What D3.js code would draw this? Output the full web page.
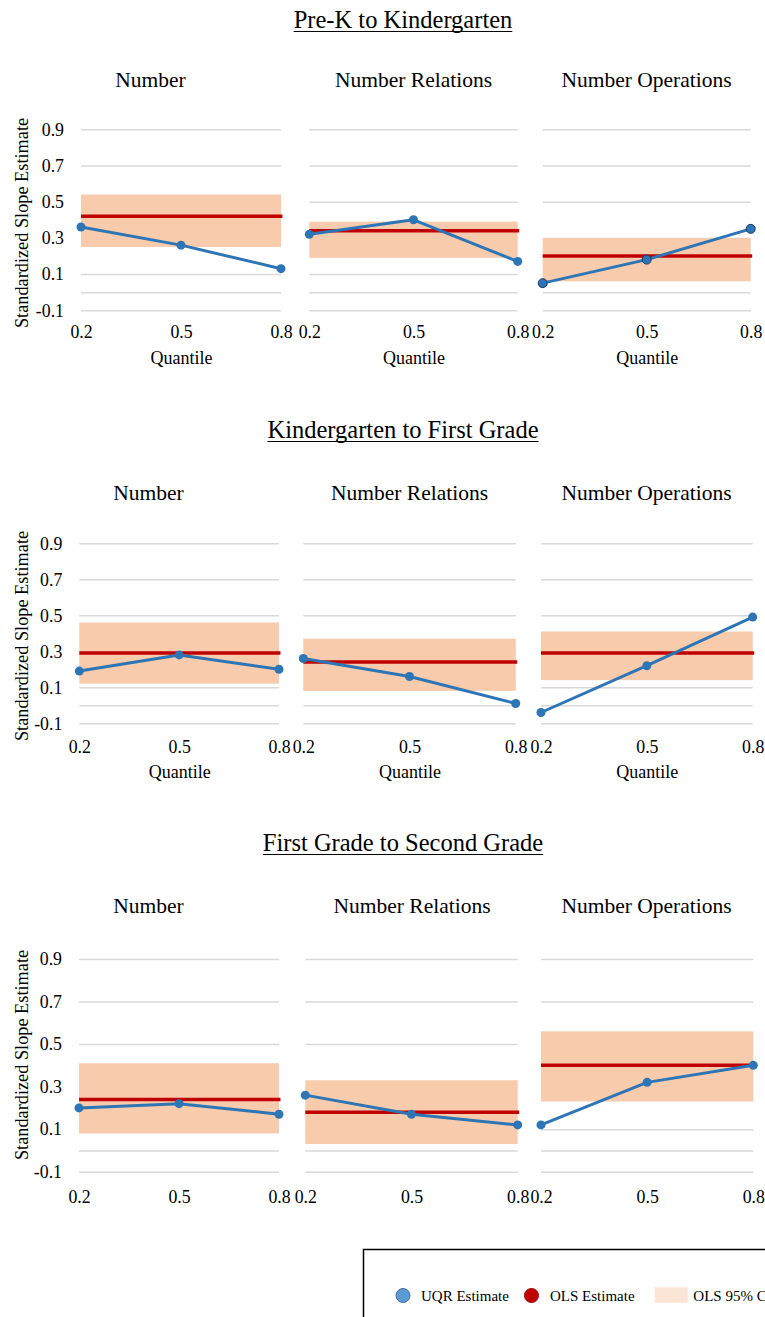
<!DOCTYPE html>
<html>
<head>
<meta charset="utf-8">
<script src="https://cdn.jsdelivr.net/npm/d3@7"></script>
<style>
  html, body { margin: 0; padding: 0; background: #fff; overflow: hidden; }
  text { font-family: "Liberation Serif", "Times New Roman", serif; fill: #000; }
</style>
</head>
<body>
<div id="chart"></div>
<script>
// ---- data ----
const quantiles = ['0.2', '0.5', '0.8'];
const transitions = ['Pre-K to Kindergarten', 'Kindergarten to First Grade', 'First Grade to Second Grade'];
const domains = ['Number', 'Number Relations', 'Number Operations'];
const yTicks = [-0.1, 0.1, 0.3, 0.5, 0.7, 0.9];

// UQR estimates per transition -> domain -> quantile
const uqrEstimates = [
  [[0.36, 0.26, 0.13], [0.32, 0.40, 0.17], [0.05, 0.18, 0.35]],
  [[0.19, 0.28, 0.20], [0.26, 0.16, 0.01], [-0.04, 0.22, 0.49]],
  [[0.20, 0.22, 0.17], [0.26, 0.17, 0.12], [0.12, 0.32, 0.40]]
];
const olsEstimates = [
  [0.42, 0.34, 0.20],
  [0.29, 0.24, 0.29],
  [0.24, 0.18, 0.40]
];
const olsCiLow = [
  [0.25, 0.19, 0.06],
  [0.12, 0.08, 0.14],
  [0.08, 0.03, 0.23]
];
const olsCiHigh = [
  [0.54, 0.39, 0.30],
  [0.46, 0.37, 0.41],
  [0.41, 0.33, 0.56]
];

// ---- layout ----
const width = 765, height = 1317;
const rows = [
  { titleY: 28, panelTitleY: 87, top: 129.3, bottom: 310.3, tickY: 338, quantY: 363.5, ylabY: 223,
    xs: [[81, 281], [309.3, 517.7], [542.7, 750.7]], titleX: [150.5, 413.5, 646.5], xlabel: true },
  { titleY: 438, panelTitleY: 500, top: 543.3, bottom: 723.3, tickY: 753.5, quantY: 778, ylabY: 636,
    xs: [[79.3, 279], [303.3, 515.7], [541, 752.7]], titleX: [148.5, 409.5, 646.5], xlabel: true },
  { titleY: 851, panelTitleY: 913, top: 959, bottom: 1171.7, tickY: 1203, quantY: null, ylabY: 1055,
    xs: [[79, 279], [305.3, 517.7], [541, 753.3]], titleX: [148.5, 412, 646.5], xlabel: false }
];
const outlined = { '0-2': true };

const gridColor = '#d9d9d9';
const bandColor = '#f8cbad';
const olsColor = '#c00000';
const uqrColor = '#2e75b6';
const serif = '"Liberation Serif", "Times New Roman", serif';

const svg = d3.select('#chart').append('svg')
  .attr('width', width)
  .attr('height', height);

rows.forEach((r, ri) => {
  // section title, underlined
  const t = svg.append('text')
    .attr('x', 403)
    .attr('y', r.titleY)
    .attr('text-anchor', 'middle')
    .style('font-size', '24.5px')
    .text(transitions[ri]);
  const tw = t.node().getComputedTextLength();
  svg.append('line')
    .attr('x1', 403 - tw / 2).attr('x2', 403 + tw / 2)
    .attr('y1', r.titleY + 3.5).attr('y2', r.titleY + 3.5)
    .attr('stroke', '#000').attr('stroke-width', 1.2);

  let y = d3.scaleLinear().domain([-0.1, 0.9]).range([r.bottom, r.top]);

  domains.forEach((dom, di) => {
    const [x0, x1] = r.xs[di];
    let x = d3.scalePoint().domain(quantiles).range([x0, x1]);
    const g = svg.append('g');

    g.append('text')
      .attr('x', r.titleX[di])
      .attr('y', r.panelTitleY)
      .attr('text-anchor', 'middle')
      .style('font-size', '21.5px')
      .text(dom);

    // gridlines (plus the light axis line at 0)
    const grid = d3.axisLeft(y).tickValues(yTicks.concat([0])).tickSize(-(x1 - x0)).tickFormat('');
    g.append('g')
      .attr('transform', `translate(${x0},0)`)
      .call(grid)
      .call(s => s.select('.domain').remove())
      .selectAll('.tick line')
      .attr('stroke', gridColor)
      .attr('stroke-width', 1.5);

    // y tick labels on first panel only
    if (di === 0) {
      g.append('g')
        .attr('transform', `translate(${x0 - 17},0)`)
        .call(d3.axisLeft(y).tickValues(yTicks).tickSize(0).tickPadding(0).tickFormat(d => d.toFixed(1)))
        .call(s => s.select('.domain').remove())
        .selectAll('text')
        .style('font-size', '17.8px')
        .style('font-family', serif)
        .attr('fill', '#000');

      g.append('text')
        .attr('transform', `translate(21.5,${r.ylabY}) rotate(-90)`)
        .attr('text-anchor', 'middle')
        .attr('dy', '0.35em')
        .style('font-size', '18.3px')
        .text('Standardized Slope Estimate');
    }

    // x tick labels
    g.append('g')
      .attr('transform', `translate(0,${r.tickY - 13})`)
      .call(d3.axisBottom(x).tickSize(0).tickPadding(0))
      .call(s => s.select('.domain').remove())
      .selectAll('text')
      .attr('dy', '0.71em')
      .style('font-size', '17.8px')
      .style('font-family', serif)
      .attr('fill', '#000');

    if (r.xlabel) {
      g.append('text')
        .attr('x', (x0 + x1) / 2 + 0.5)
        .attr('y', r.quantY)
        .attr('text-anchor', 'middle')
        .style('font-size', '18px')
        .text('Quantile');
    }

    // OLS 95% CI band
    g.append('rect')
      .attr('x', x(quantiles[0]))
      .attr('width', x(quantiles[2]) - x(quantiles[0]))
      .attr('y', y(olsCiHigh[ri][di]))
      .attr('height', y(olsCiLow[ri][di]) - y(olsCiHigh[ri][di]))
      .attr('fill', bandColor);

    // OLS estimate
    g.append('line')
      .attr('x1', x(quantiles[0]))
      .attr('x2', x(quantiles[2]) + 1.5)
      .attr('y1', y(olsEstimates[ri][di]))
      .attr('y2', y(olsEstimates[ri][di]))
      .attr('stroke', olsColor)
      .attr('stroke-width', 3.5);

    // UQR estimates
    const pts = quantiles.map((q, i) => ({ q: q, v: uqrEstimates[ri][di][i] }));
    g.append('path')
      .datum(pts)
      .attr('fill', 'none')
      .attr('stroke', uqrColor)
      .attr('stroke-width', 3)
      .attr('stroke-linejoin', 'round')
      .attr('d', d3.line().x(d => x(d.q)).y(d => y(d.v)));

    g.selectAll('circle.uqr')
      .data(pts)
      .enter()
      .append('circle')
      .attr('class', 'uqr')
      .attr('cx', d => x(d.q))
      .attr('cy', d => y(d.v))
      .attr('r', 4.5)
      .attr('fill', uqrColor)
      .attr('stroke', outlined[ri + '-' + di] ? '#1f3864' : 'none')
      .attr('stroke-width', 1);
  });
});

// legend (runs off the right edge like the original)
const lg = svg.append('g');
lg.append('rect')
  .attr('x', 363.5).attr('y', 1249.5)
  .attr('width', 500).attr('height', 120)
  .attr('fill', '#fff')
  .attr('stroke', '#000')
  .attr('stroke-width', 1.5);
lg.append('circle').attr('cx', 403).attr('cy', 1295.5).attr('r', 7)
  .attr('fill', '#5b9bd5').attr('stroke', '#41719c').attr('stroke-width', 1);
lg.append('text').attr('x', 421).attr('y', 1301).style('font-size', '15px').text('UQR Estimate');
lg.append('circle').attr('cx', 531.5).attr('cy', 1295.5).attr('r', 7)
  .attr('fill', olsColor).attr('stroke', '#a00000').attr('stroke-width', 1);
lg.append('text').attr('x', 550).attr('y', 1301).style('font-size', '15px').text('OLS Estimate');
lg.append('rect').attr('x', 654.7).attr('y', 1287.3).attr('width', 33).attr('height', 15.5)
  .attr('fill', '#fbe5d6');
lg.append('text').attr('x', 693.3).attr('y', 1301).style('font-size', '15px').text('OLS 95% CI');
</script>
</body>
</html>
